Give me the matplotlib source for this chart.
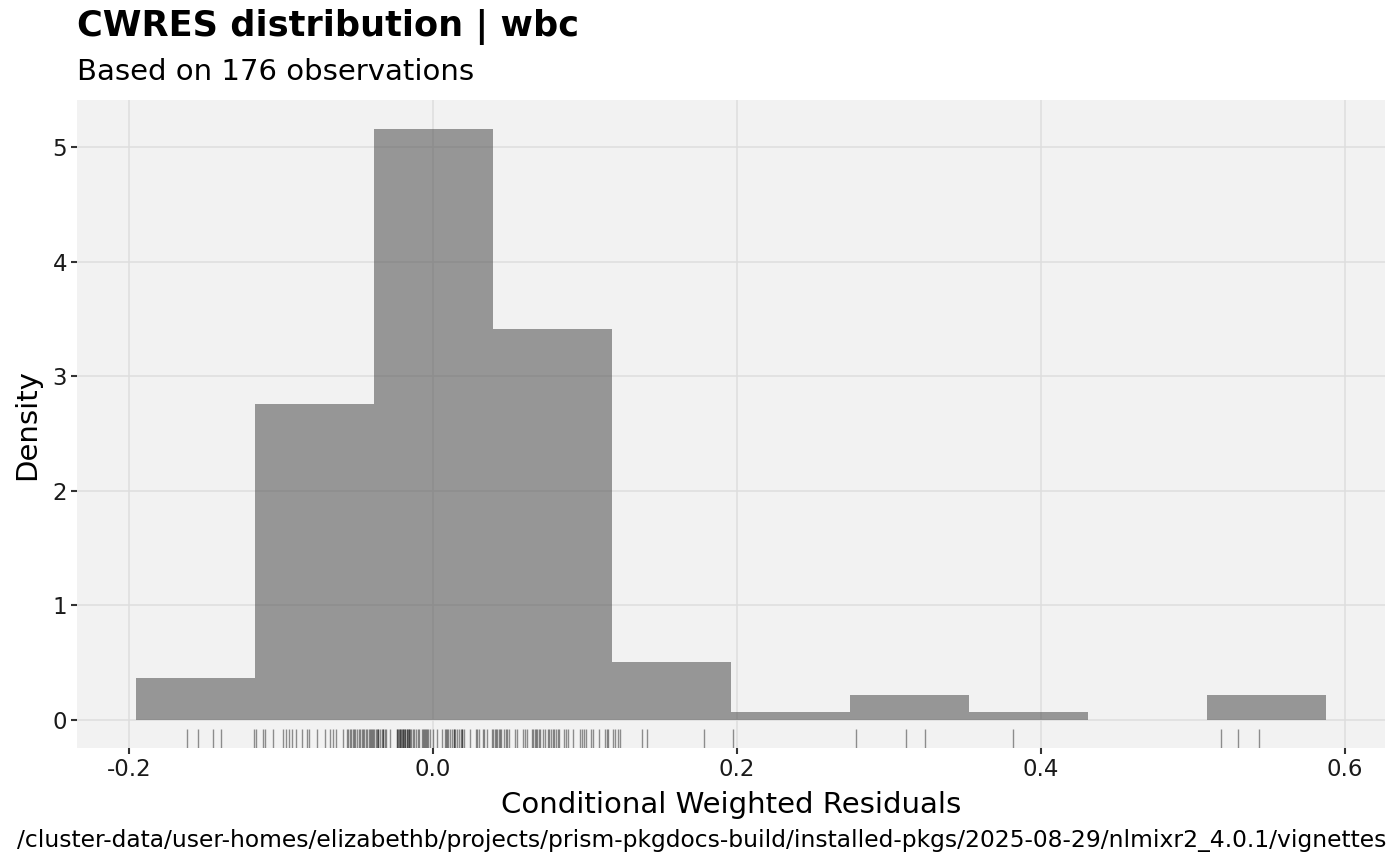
import numpy as np
import matplotlib
matplotlib.use("Agg")
from matplotlib import pyplot as plt
import matplotlib.transforms as mtransforms

# conditional weighted residuals
cwres_low = [-0.1616, -0.1544, -0.1445, -0.1397, -0.1178]
cwres_neg = [-0.1164, -0.1116, -0.1103, -0.1051, -0.0987, -0.0967, -0.0947, -0.0928,
             -0.0901, -0.0862, -0.0831, -0.0814, -0.0761, -0.0711, -0.0678, -0.0658,
             -0.0638, -0.0590, -0.0568, -0.0561, -0.0549, -0.0541, -0.0528, -0.0522,
             -0.0510, -0.0502, -0.0489, -0.0481, -0.0470, -0.0463, -0.0451, -0.0440,
             -0.0432, -0.0421, -0.0416, -0.0405, -0.0399, -0.0392]
cwres_mid = [-0.0385, -0.0378, -0.0370, -0.0365, -0.0361, -0.0349, -0.0338, -0.0332,
             -0.0326, -0.0318, -0.0306, -0.0285, -0.0238, -0.0235, -0.0231, -0.0225,
             -0.0218, -0.0215, -0.0211, -0.0203, -0.0200, -0.0196, -0.0189, -0.0185,
             -0.0181, -0.0174, -0.0170, -0.0166, -0.0158, -0.0155, -0.0150, -0.0142,
             -0.0131, -0.0122, -0.0113, -0.0101, -0.0089, -0.0073, -0.0064, -0.0060,
             -0.0055, -0.0045, -0.0040, -0.0034, -0.0022, 0.0002, 0.0024, 0.0057,
             0.0080, 0.0086, 0.0091, 0.0102, 0.0111, 0.0124, 0.0135, 0.0140,
             0.0146, 0.0155, 0.0172, 0.0183, 0.0188, 0.0193, 0.0203, 0.0243,
             0.0283, 0.0292, 0.0302, 0.0327, 0.0338, 0.0357, 0.0386]
cwres_pos = [0.0398, 0.0405, 0.0413, 0.0422, 0.0431, 0.0440, 0.0445, 0.0467,
             0.0478, 0.0490, 0.0500, 0.0539, 0.0555, 0.0592, 0.0605, 0.0618,
             0.0651, 0.0660, 0.0669, 0.0678, 0.0687, 0.0696, 0.0704, 0.0726,
             0.0737, 0.0755, 0.0766, 0.0778, 0.0791, 0.0798, 0.0807, 0.0820,
             0.0831, 0.0864, 0.0877, 0.0890, 0.0923, 0.0967, 0.0978, 0.0995,
             0.1005, 0.1039, 0.1055, 0.1092, 0.1132, 0.1146, 0.1153]
cwres_high = [0.1184, 0.1197, 0.1219, 0.1232, 0.1372, 0.1407, 0.1780,
              0.1975, 0.2783, 0.3111, 0.3237, 0.3816, 0.5181, 0.5293, 0.5434]

cwres = np.array(cwres_low + cwres_neg + cwres_mid + cwres_pos + cwres_high)

bin_lo = -0.1954
bin_hi = 0.5875
n_bins = 10

fig = plt.figure(figsize=(14, 8.65), dpi=100)
ax = fig.add_axes([77/1400, 1-748/865, (1385-77)/1400, 648/865])
ax.set_facecolor("#F2F2F2")
for s in ax.spines.values():
    s.set_visible(False)
ax.grid(True, color="#DEDEDE", linewidth=1.1)
ax.set_axisbelow(True)

ax.hist(cwres, bins=np.linspace(bin_lo, bin_hi, n_bins + 1), density=True,
        color="#595959", alpha=0.6, zorder=2)

trans = mtransforms.blended_transform_factory(ax.transData, ax.transAxes)
ax.vlines(cwres, 0, 0.03, transform=trans, color="black", alpha=0.42,
          linewidth=1.0, zorder=3)

ax.set_xlim(-0.2342, 0.6263)
ax.set_ylim(-0.244, 5.41)
ax.set_xticks([-0.2, 0.0, 0.2, 0.4, 0.6])
ax.set_xticklabels(["-0.2", "0.0", "0.2", "0.4", "0.6"])
ax.set_yticks([0, 1, 2, 3, 4, 5])
ax.tick_params(axis="both", length=4, width=1.5, color="#333333",
               labelsize=16.5, labelcolor="#1A1A1A", pad=3)

fig.text(731/1400, 1-813/865, "Conditional Weighted Residuals", fontsize=21,
         ha="center", va="baseline")
fig.text(27/1400, 1-424/865, "Density", fontsize=21, rotation=90,
         ha="center", va="center")

fig.text(77/1400, 1-36/865, "CWRES distribution | wbc", fontsize=25.3,
         fontweight="bold", ha="left", va="baseline")
fig.text(77/1400, 1-80/865, "Based on 176 observations", fontsize=21,
         ha="left", va="baseline")
fig.text(1386/1400, 1-847/865,
         "/cluster-data/user-homes/elizabethb/projects/prism-pkgdocs-build/installed-pkgs/2025-08-29/nlmixr2_4.0.1/vignettes",
         fontsize=16.8, ha="right", va="baseline")

fig.savefig("out.png", dpi=100)
